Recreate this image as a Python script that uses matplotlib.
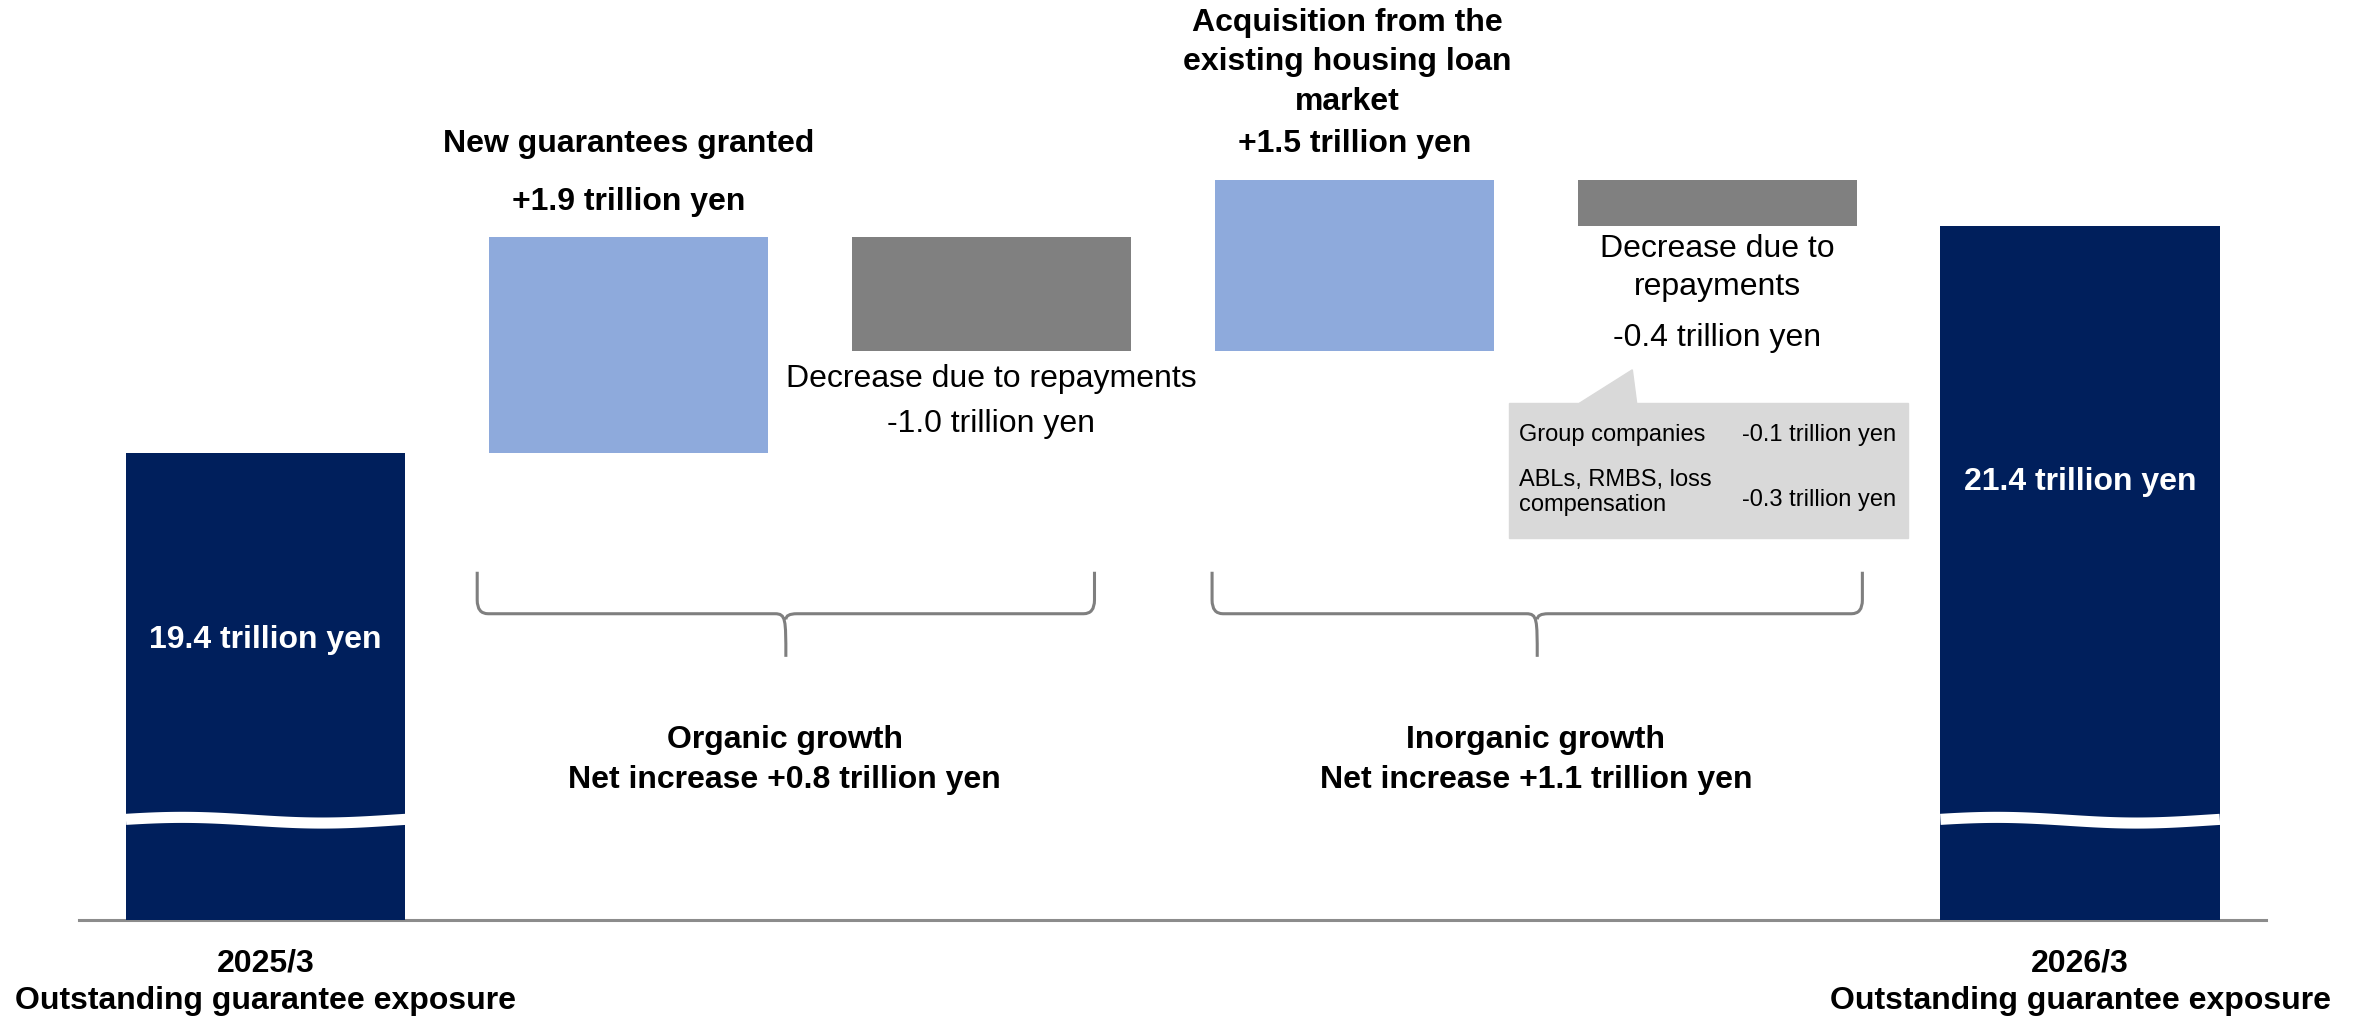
import numpy as np
import matplotlib.pyplot as plt
from matplotlib.patches import Polygon, Rectangle, PathPatch
from matplotlib.path import Path

plt.rcParams['font.family'] = ['Liberation Sans', 'DejaVu Sans']

# data (trillion yen)
start_value = 19.4
end_value = 21.4
changes = [1.9, -1.0, 1.5, -0.4]
bottom_labels = ['2025/3\nOutstanding guarantee exposure', '',
                 '', '', '', '2026/3\nOutstanding guarantee exposure']
sub_items = ['Group companies', 'ABLs, RMBS, loss\ncompensation']
sub_values = ['-0.1 trillion yen', '-0.3 trillion yen']

NAVY = '#001F5C'
LIGHT = '#8EAADC'
GREY = '#808080'
FS = 23

floor = 15.28   # truncated axis bottom
x = np.arange(6)
width = 0.77

fig = plt.figure(figsize=(23.61, 10.21), dpi=100)
ax = fig.add_axes([0, 0, 1, 1])
ax.set_xlim(-0.732, 5.774)
ax.set_ylim(14.39, 23.39)
ax.axis('off')

# total bars
totals = [start_value, end_value]
for xi, v in zip([x[0], x[5]], totals):
    ax.bar(xi, v - floor, bottom=floor, width=width, color=NAVY, zorder=2)
    # break mark
    xs = np.linspace(xi - width / 2, xi + width / 2, 100)
    ys = 16.16 + 0.025 * np.sin((xs - xi + width / 2) / width * 2 * np.pi + 0.3)
    ax.plot(xs, ys, color='white', lw=8, solid_capstyle='butt', zorder=3)

# step bars
level = start_value
for i, c in enumerate(changes):
    col = LIGHT if c > 0 else GREY
    lo = min(level, level + c)
    ax.bar(x[i + 1], abs(c), bottom=lo, width=width, color=col, zorder=2)
    level += c

# baseline
ax.plot([-0.515, 5.513], [floor, floor], color='#8C8C8C', lw=2.2, zorder=1)

# labels inside totals
ax.text(0, 17.75, f'{start_value} trillion yen', color='white', fontsize=FS,
        fontweight='bold', ha='center', va='center')
ax.text(5, 19.14, f'{end_value} trillion yen', color='white', fontsize=FS,
        fontweight='bold', ha='center', va='center')

# bottom labels
for xi, lab in zip(x, bottom_labels):
    if lab:
        ax.text(xi, 14.73, lab, fontsize=FS, fontweight='bold', ha='center',
                va='center', linespacing=1.3)

# step labels
ax.text(1, 22.12, 'New guarantees granted', fontsize=FS, fontweight='bold',
        ha='center', va='center')
ax.text(1, 21.61, f'+{changes[0]} trillion yen', fontsize=FS, fontweight='bold',
        ha='center', va='center')
ax.text(2, 20.05, 'Decrease due to repayments', fontsize=FS, ha='center', va='center')
ax.text(2, 19.65, f'{changes[1]} trillion yen', fontsize=FS, ha='center', va='center')
ax.text(2.98, 22.84, 'Acquisition from the\nexisting housing loan\nmarket',
        fontsize=FS, fontweight='bold', ha='center', va='center', linespacing=1.4)
ax.text(3, 22.12, f'+{changes[2]} trillion yen', fontsize=FS, fontweight='bold',
        ha='center', va='center')
ax.text(4, 21.03, 'Decrease due to\nrepayments', fontsize=FS, ha='center',
        va='center', linespacing=1.35)
ax.text(4, 20.41, f'{changes[3]} trillion yen', fontsize=FS, ha='center', va='center')

# callout box
ax.add_patch(Rectangle((3.425, 18.65), 1.1, 1.185, color='#D9D9D9', zorder=1))
ax.add_patch(Polygon([(3.62, 19.835), (3.766, 20.13), (3.778, 19.835)],
                     closed=True, color='#D9D9D9', zorder=1))
for yy, name, val in zip([19.556, 19.05], sub_items, sub_values):
    ax.text(3.454, yy, name, fontsize=17, ha='left', va='center', linespacing=1.2)
    ax.text(4.068, yy - (0.065 if '\n' in name else 0), val, fontsize=17,
            ha='left', va='center')


# braces
def brace(x0, x1, y_top, y_mid, y_tip):
    xm = (x0 + x1) / 2
    r = 0.03
    ry = 0.12
    verts = [(x0, y_top), (x0, y_mid + ry), (x0, y_mid), (x0 + r, y_mid),
             (xm - r, y_mid),
             (xm, y_mid), (xm, y_mid - 0.05), (xm, y_tip),
             (xm, y_mid - 0.05), (xm, y_mid), (xm + r, y_mid),
             (x1 - r, y_mid),
             (x1, y_mid), (x1, y_mid + ry), (x1, y_top)]
    codes = [Path.MOVETO, Path.LINETO, Path.CURVE3, Path.CURVE3,
             Path.LINETO,
             Path.CURVE4, Path.CURVE4, Path.CURVE4,
             Path.MOVETO, Path.CURVE3, Path.CURVE3,
             Path.LINETO,
             Path.CURVE3, Path.CURVE3, Path.LINETO]
    ax.add_patch(PathPatch(Path(verts, codes), fill=False, edgecolor='#7F7F7F',
                           lw=2.2))


brace(0.583, 2.284, 18.35, 17.98, 17.60)
brace(2.608, 4.40, 18.35, 17.98, 17.60)

ax.text(1.43, 16.69, 'Organic growth\nNet increase +0.8 trillion yen', fontsize=FS,
        fontweight='bold', ha='center', va='center', linespacing=1.4)
ax.text(3.5, 16.69, 'Inorganic growth\nNet increase +1.1 trillion yen', fontsize=FS,
        fontweight='bold', ha='center', va='center', linespacing=1.4)

fig.savefig('out.png', dpi=100)
